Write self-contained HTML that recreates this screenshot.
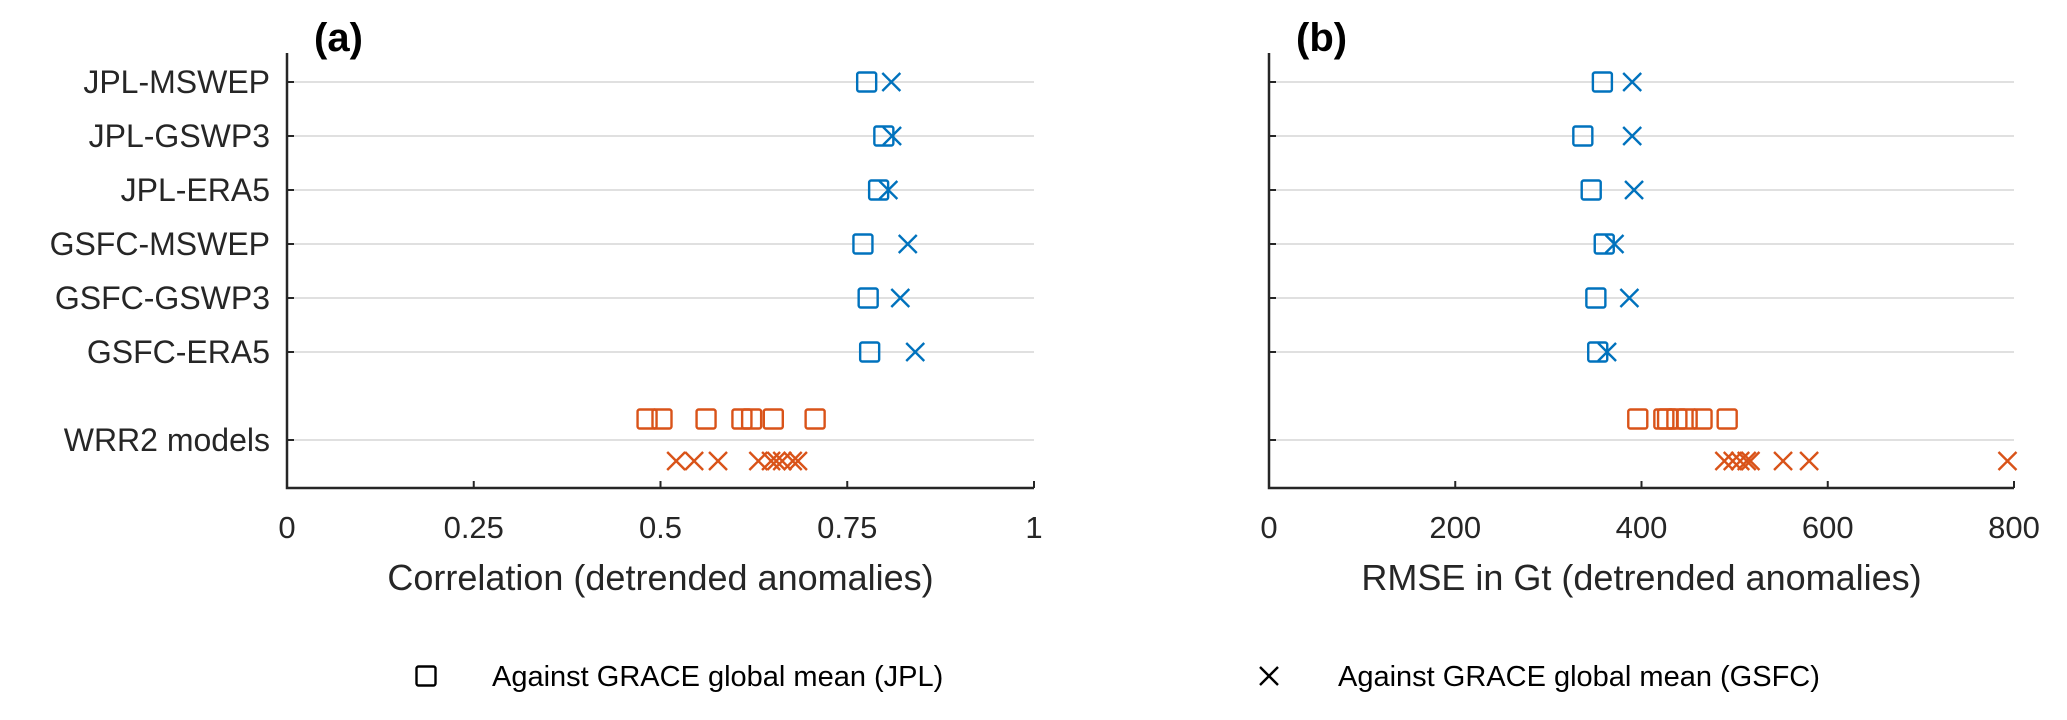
<!DOCTYPE html>
<html><head><meta charset="utf-8"><style>
html,body{margin:0;padding:0;background:#fff;}
svg{display:block;font-family:"Liberation Sans",sans-serif;}
</style></head><body>
<svg id="chart" width="2067" height="720"></svg>
<script>
const rowLabels=["JPL-MSWEP","JPL-GSWP3","JPL-ERA5","GSFC-MSWEP","GSFC-GSWP3","GSFC-ERA5"];
const corrJPL=[0.776,0.799,0.792,0.771,0.778,0.780];
const corrGSFC=[0.809,0.810,0.805,0.831,0.821,0.841];
const rmseJPL=[358,337,346,360,351,353];
const rmseGSFC=[390,390,392,371,387,363];
const wrrCorrJPL=[0.482,0.502,0.561,0.609,0.622,0.651,0.707];
const wrrCorrGSFC=[0.521,0.545,0.577,0.631,0.648,0.655,0.663,0.677,0.684];
const wrrRmseJPL=[396,424,428,438,449,465,492];
const wrrRmseGSFC=[489,498,506,513,517,552,580,793];
const ticksA=[0,0.25,0.5,0.75,1];
const tickLabelsA=["0","0.25","0.5","0.75","1"];
const ticksB=[0,200,400,600,800];
const tickLabelsB=["0","200","400","600","800"];

const NS="http://www.w3.org/2000/svg";
const svg=document.getElementById('chart');
function mk(tag,attrs,parent){const e=document.createElementNS(NS,tag);for(const k in attrs)e.setAttribute(k,attrs[k]);(parent||svg).appendChild(e);return e;}
const BLUE="#0072BD",ORANGE="#D95319";
const rowY=i=>82+i*54;
const wrrY=440, sqY=419, xY=461;
const axTop=53, axBot=488;

function square(g,cx,cy,col,name){const r=mk('rect',{x:cx-9.5,y:cy-9.5,width:19,height:19,rx:2,fill:'none',stroke:col,'stroke-width':2.4},g);

}
function cross(g,cx,cy,col,name){const p=mk('path',{d:`M${cx-9},${cy-9}L${cx+9},${cy+9}M${cx+9},${cy-9}L${cx-9},${cy+9}`,stroke:col,'stroke-width':2.4,fill:'none'},g);

}

function panel(id,x0,x1,dmin,dmax,ticks,tickLabels,title,letter,jpl,gsfc,wjpl,wgsfc,showLabels){
  const g=mk('g',{});
  
  
  const sx=v=>x0+(v-dmin)/(dmax-dmin)*(x1-x0);
  const ys=rowLabels.map((_,i)=>rowY(i)).concat([wrrY]);
  const labs=rowLabels.concat(["WRR2 models"]);
  ys.forEach((y,i)=>{
    const gl=mk('line',{x1:x0,x2:x1,y1:y,y2:y,stroke:'#e0e0e0','stroke-width':2},g);
    
    
    mk('line',{x1:x0,x2:x0+7,y1:y,y2:y,stroke:'#262626','stroke-width':2},g);
    if(showLabels){const t=mk('text',{x:270,y:y+11,'text-anchor':'end','font-size':32,fill:'#262626'},g);t.textContent=labs[i];
      
      }
  });
  const ax=mk('path',{d:`M${x0},${axTop}L${x0},${axBot}L${x1},${axBot}`,stroke:'#262626','stroke-width':2.5,fill:'none'},g);
  
  
  ticks.forEach((v,i)=>{const x=sx(v);
    mk('line',{x1:x,x2:x,y1:axBot,y2:axBot-7,stroke:'#262626','stroke-width':2},g);
    const t=mk('text',{x:x,y:538,'text-anchor':'middle','font-size':31,fill:'#262626'},g);t.textContent=tickLabels[i];
    
    });
  const tt=mk('text',{x:(x0+x1)/2,y:590,'text-anchor':'middle','font-size':36,fill:'#262626'},g);tt.textContent=title;
  
  
  const lt=mk('text',{x:x0+27,y:51,'font-size':40,'font-weight':'bold',fill:'#000'},g);lt.textContent=letter;
  
  
  jpl.forEach((v,i)=>square(g,sx(v),rowY(i),BLUE,'jpl-marker'));
  gsfc.forEach((v,i)=>cross(g,sx(v),rowY(i),BLUE,'gsfc-marker'));
  wjpl.forEach(v=>square(g,sx(v),sqY,ORANGE,'wrr2-jpl-marker'));
  wgsfc.forEach(v=>cross(g,sx(v),xY,ORANGE,'wrr2-gsfc-marker'));
}
panel('a',287,1034,0,1,ticksA,tickLabelsA,"Correlation (detrended anomalies)","(a)",corrJPL,corrGSFC,wrrCorrJPL,wrrCorrGSFC,true);
panel('b',1269,2014,0,800,ticksB,tickLabelsB,"RMSE in Gt (detrended anomalies)","(b)",rmseJPL,rmseGSFC,wrrRmseJPL,wrrRmseGSFC,false);

const lg=mk('g',{});


square(lg,426,676,'#000','legend-square-icon');
const l1=mk('text',{x:492,y:686,'font-size':29,fill:'#000'},lg);l1.textContent="Against GRACE global mean (JPL)";


cross(lg,1269,676,'#000','legend-cross-icon');
const l2=mk('text',{x:1338,y:686,'font-size':29,fill:'#000'},lg);l2.textContent="Against GRACE global mean (GSFC)";


</script>
</body></html>
